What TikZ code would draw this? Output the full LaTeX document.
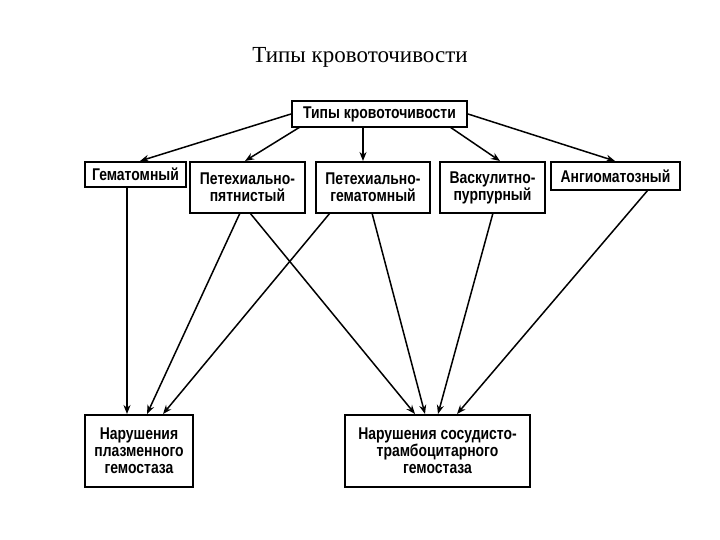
\documentclass[tikz,border=0pt]{standalone}
\usepackage{fontspec}
\setmainfont{Liberation Serif}
\newfontfamily\boxfont{Liberation Sans}[FakeStretch=0.82]
\usetikzlibrary{arrows.meta}
\begin{document}
\begin{tikzpicture}[x=1pt,y=-1pt,
  bx/.style={draw,line width=2pt,inner sep=0pt,font=\boxfont\bfseries\fontsize{17}{17}\selectfont,align=center},
  ar/.style={-{Stealth[length=9pt,width=7pt]},line width=1.5pt}]
\useasboundingbox (0,0) rectangle (720,540);
\node (title) at (360,57) {\fontsize{23}{26}\selectfont Типы кровоточивости};
\node[bx,minimum width=175,minimum height=26] (top) at (379.5,114) {Типы кровоточивости};
\node[bx,minimum width=101,minimum height=25] (g) at (135.5,174.5) {Гематомный};
\node[bx,minimum width=115,minimum height=51] (pp) at (247.5,187.5) {Петехиально-\\пятнистый};
\node[bx,minimum width=114,minimum height=51] (pg) at (373,187.5) {Петехиально-\\гематомный};
\node[bx,minimum width=105,minimum height=51] (v) at (492.5,187.5) {Васкулитно-\\пурпурный};
\node[bx,minimum width=129,minimum height=28] (a) at (615.5,176) {Ангиоматозный};
\node[bx,minimum width=108,minimum height=72] (pl) at (139,451) {Нарушения\\плазменного\\гемостаза};
\node[bx,minimum width=185,minimum height=72] (st) at (437.5,451) {Нарушения сосудисто-\\трамбоцитарного\\гемостаза};
\draw[ar] (top.west) -- (140,161);
\draw[ar] (300,127) -- (245,161);
\draw[ar] (363,127) -- (363,161);
\draw[ar] (450,127) -- (500,161);
\draw[ar] (top.east) -- (615,161);
\draw[ar] (127,187) -- (127,414);
\draw[ar] (240,213) -- (147,414);
\draw[ar] (250,213) -- (415,414);
\draw[ar] (330,213) -- (163,414);
\draw[ar] (372,213) -- (425,414);
\draw[ar] (493,213) -- (438,414);
\draw[ar] (648,190) -- (457,414);
\end{tikzpicture}
\end{document}
